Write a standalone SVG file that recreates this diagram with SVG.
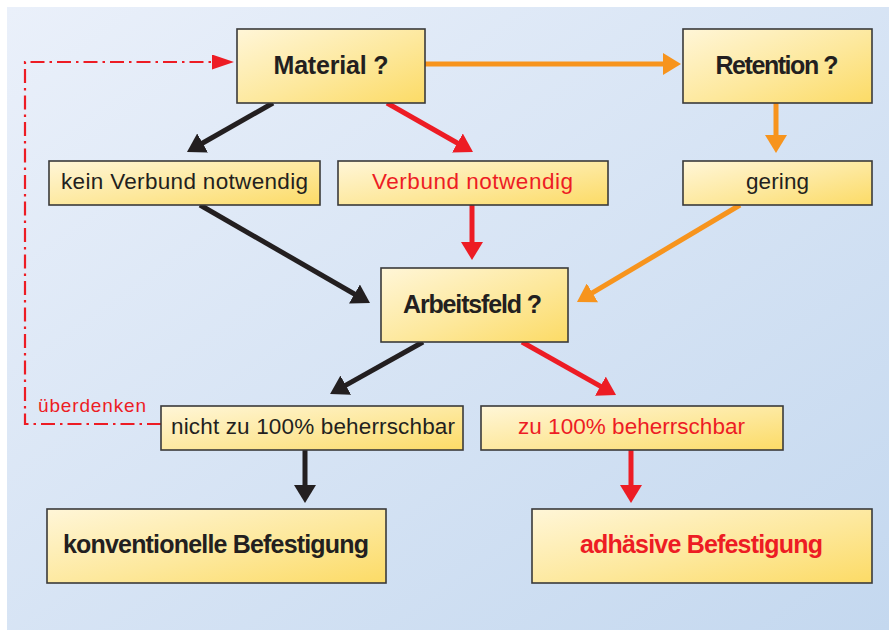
<svg xmlns="http://www.w3.org/2000/svg" width="889" height="630" viewBox="0 0 889 630">
<defs>
<linearGradient id="bg" x1="0" y1="0" x2="1" y2="1">
<stop offset="0" stop-color="#eaf0fa"/>
<stop offset="1" stop-color="#c4d8ef"/>
</linearGradient>
<linearGradient id="box" x1="0" y1="0" x2="1" y2="1">
<stop offset="0" stop-color="#fff6d8"/>
<stop offset="0.55" stop-color="#fde89c"/>
<stop offset="1" stop-color="#fcdb66"/>
</linearGradient>
<marker id="mk" viewBox="0 0 18 22" refX="9" refY="11" markerWidth="18" markerHeight="22" markerUnits="userSpaceOnUse" orient="auto"><path d="M0,0 L18,11 L0,22 z" fill="#231f20"/></marker>
<marker id="mr" viewBox="0 0 18 22" refX="9" refY="11" markerWidth="18" markerHeight="22" markerUnits="userSpaceOnUse" orient="auto"><path d="M0,0 L18,11 L0,22 z" fill="#ed1c24"/></marker>
<marker id="mo" viewBox="0 0 18 22" refX="9" refY="11" markerWidth="18" markerHeight="22" markerUnits="userSpaceOnUse" orient="auto"><path d="M0,0 L18,11 L0,22 z" fill="#f7941d"/></marker>
<marker id="md" viewBox="0 0 22 15" refX="11" refY="7.5" markerWidth="22" markerHeight="15" markerUnits="userSpaceOnUse" orient="auto"><path d="M0,0 L22,7.5 L0,15 z" fill="#ed1c24"/></marker>
</defs>
<style>
.n{fill:url(#box);stroke:#3a3a3a;stroke-width:1.6}
.t{font-family:"Liberation Sans",Arial,sans-serif;text-anchor:middle;fill:#231f20}
.b{font-weight:bold;font-size:25px}
.r{font-size:22.5px}
.red{fill:#ed1c24}
.ck{stroke:#231f20;stroke-width:5;fill:none}
.cr{stroke:#ed1c24;stroke-width:5;fill:none}
.co{stroke:#f7941d;stroke-width:5;fill:none}
</style>
<rect x="7" y="7" width="882" height="623" fill="url(#bg)"/>
<g id="connectors">
<path class="co" d="M425,64 L672,64" marker-end="url(#mo)"/>
<path class="co" d="M776,103 L776,144" marker-end="url(#mo)"/>
<path class="ck" d="M273,103 L194.8,147.5" marker-end="url(#mk)"/>
<path class="cr" d="M387,103 L465.2,147.5" marker-end="url(#mr)"/>
<path class="ck" d="M200,205 L362.2,298.5" marker-end="url(#mk)"/>
<path class="cr" d="M472,205 L472,251" marker-end="url(#mr)"/>
<path class="co" d="M740,205 L584.7,297.4" marker-end="url(#mo)"/>
<path class="ck" d="M423,342 L337.9,389.6" marker-end="url(#mk)"/>
<path class="cr" d="M522,342 L608.2,390.6" marker-end="url(#mr)"/>
<path class="ck" d="M305,450 L305,494" marker-end="url(#mk)"/>
<path class="cr" d="M631,450 L631,494" marker-end="url(#mr)"/>
<path d="M161,424 H25 V62 H223" fill="none" stroke="#ed1c24" stroke-width="2.2" stroke-dasharray="14 5 2.5 5" marker-end="url(#md)"/>
<text class="t red" x="92" y="412" font-size="19" textLength="108">überdenken</text>
</g>
<g id="material"><rect class="n" x="237" y="29" width="188" height="74"/><text class="t b" x="331" y="74" textLength="115">Material ?</text></g>
<g id="retention"><rect class="n" x="683" y="29" width="189" height="74"/><text class="t b" x="777" y="74" textLength="123">Retention ?</text></g>
<g id="kein-verbund"><rect class="n" x="49" y="161" width="271" height="44"/><text class="t r" x="184.5" y="189" textLength="247">kein Verbund notwendig</text></g>
<g id="verbund"><rect class="n" x="338" y="161" width="270" height="44"/><text class="t r red" x="472.5" y="189" textLength="201">Verbund notwendig</text></g>
<g id="gering"><rect class="n" x="683" y="161" width="189" height="44"/><text class="t r" x="777.5" y="189" textLength="63">gering</text></g>
<g id="arbeitsfeld"><rect class="n" x="381" y="268" width="187" height="74"/><text class="t b" x="472.5" y="313" textLength="139">Arbeitsfeld ?</text></g>
<g id="nicht-beherrschbar"><rect class="n" x="161" y="406" width="302" height="44"/><text class="t r" x="313" y="434" textLength="284">nicht zu 100% beherrschbar</text></g>
<g id="beherrschbar"><rect class="n" x="481" y="406" width="302" height="44"/><text class="t r red" x="631.5" y="434" textLength="227">zu 100% beherrschbar</text></g>
<g id="konventionell"><rect class="n" x="47" y="509" width="339" height="74"/><text class="t b" x="216" y="553" textLength="306">konventionelle Befestigung</text></g>
<g id="adhaesiv"><rect class="n" x="532" y="509" width="340" height="74"/><text class="t b red" x="701.5" y="553" textLength="243">adhäsive Befestigung</text></g>
</svg>
